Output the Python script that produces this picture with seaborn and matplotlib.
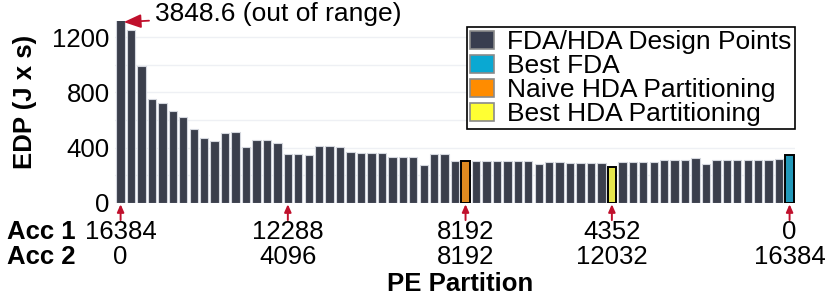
import pandas as pd
import matplotlib.pyplot as plt
import seaborn as sns
from matplotlib.patches import Patch
from matplotlib.ticker import MultipleLocator

# EDP of every PE partition (step 0 .. 64), first one is out of range
edp = [3848.6, 1256, 993, 752, 721, 665, 622, 535, 470, 450,
       508, 516, 407, 456, 456, 432, 352, 352, 345, 410,
       410, 408, 365, 363, 358, 358, 329, 329, 329, 276,
       351, 351, 303, 303, 303, 303, 303, 303, 303, 303,
       281, 293, 293, 288, 288, 288, 288, 257, 293, 293,
       293, 293, 310, 310, 310, 327, 279, 308, 308, 308,
       309, 309, 309, 317, 346]
kinds = ['FDA/HDA Design Points'] * len(edp)
kinds[33] = 'Naive HDA Partitioning'
kinds[47] = 'Best HDA Partitioning'
kinds[64] = 'Best FDA'

# marked partitions
mark_pos = [0, 16, 33, 47, 64]
acc1 = ['16384', '12288', '8192', '4352', '0']
acc2 = ['0', '4096', '8192', '12032', '16384']

legend_order = ['FDA/HDA Design Points', 'Best FDA', 'Naive HDA Partitioning', 'Best HDA Partitioning']
colors = {'FDA/HDA Design Points': '#383d4f', 'Best FDA': '#0aa8d2',
          'Naive HDA Partitioning': '#ff8c00', 'Best HDA Partitioning': '#ffff33'}

df = pd.DataFrame({'pos': range(len(edp)), 'edp': edp, 'kind': kinds})

sns.set_style('white')
plt.rcParams['font.family'] = ['Liberation Sans', 'DejaVu Sans']
plt.rcParams['text.color'] = 'black'
plt.rcParams['ytick.color'] = 'black'
FS = 18.5
red = '#c0102c'

fig = plt.figure(figsize=(8.3, 3.0), dpi=100)
ax = fig.add_axes([0.139, 0.324, 0.8186, 0.607])

sns.barplot(data=df, x='pos', y='edp', hue='kind', palette=colors, dodge=False,
            width=0.8, legend=False, ax=ax, zorder=3)
for bar, k in zip(sorted(ax.patches, key=lambda p: p.get_x()), kinds):
    if k == 'FDA/HDA Design Points':
        bar.set_edgecolor('#d4d7de')
        bar.set_linewidth(0.8)
    else:
        bar.set_edgecolor('black')
        bar.set_linewidth(1.4)

ax.set_xlim(-0.5, len(edp) - 0.5)
ax.set_ylim(0, 1320)
ax.yaxis.set_major_locator(MultipleLocator(400))
ax.yaxis.set_minor_locator(MultipleLocator(200))
ax.grid(axis='y', which='both', color='#eef0f4', linewidth=1, zorder=0)
ax.set_axisbelow(True)
ax.tick_params(axis='y', length=0, labelsize=FS, pad=4, labelcolor='black')
ax.set_xticks([])
ax.set_xlabel('')
ax.set_ylabel('')
for s in ax.spines.values():
    s.set_visible(False)

# out of range note
ax.annotate('3848.6 (out of range)', xy=(0.3, 1310), xytext=(3.3, 1372),
            fontsize=19, ha='left', va='center', annotation_clip=False,
            arrowprops=dict(arrowstyle='-|>,head_length=0.55,head_width=0.22',
                            color=red, lw=1.3, shrinkA=2, shrinkB=0))

# arrows + partition labels
trans = ax.get_xaxis_transform()
for p, a1, a2 in zip(mark_pos, acc1, acc2):
    ax.annotate('', xy=(p, -0.008), xytext=(p, -0.095), xycoords=trans, textcoords=trans,
                annotation_clip=False,
                arrowprops=dict(arrowstyle='-|>,head_length=0.45,head_width=0.2',
                                color=red, lw=1.4, shrinkA=0, shrinkB=0))
    ax.text(p, -0.16, a1, transform=trans, ha='center', va='center', fontsize=FS)
    ax.text(p, -0.30, a2, transform=trans, ha='center', va='center', fontsize=FS)

fig.text(7 / 830, 1 - 232 / 300, 'Acc 1', fontsize=FS, fontweight='bold', ha='left', va='center')
fig.text(7 / 830, 1 - 257 / 300, 'Acc 2', fontsize=FS, fontweight='bold', ha='left', va='center')
fig.text(460 / 830, 1 - 284 / 300, 'PE Partition', fontsize=FS, fontweight='bold', ha='center', va='center')
fig.text(25 / 830, 1 - 102 / 300, 'EDP (J x s)', fontsize=FS, fontweight='bold', rotation=90,
         ha='center', va='center')

handles = [Patch(facecolor=colors[k], edgecolor='#8a8a8a', linewidth=1.2, label=k) for k in legend_order]
leg = ax.legend(handles=handles, loc='upper right', bbox_to_anchor=(1.0, 0.965), borderaxespad=0,
                fontsize=19, frameon=True, fancybox=False, framealpha=1, handlelength=0.9,
                handleheight=0.65, handletextpad=0.5, labelspacing=0.0, borderpad=0.12)
leg.get_frame().set_edgecolor('black')
leg.get_frame().set_linewidth(1.2)
leg.set_zorder(5)

fig.savefig('out.png', dpi=100)
